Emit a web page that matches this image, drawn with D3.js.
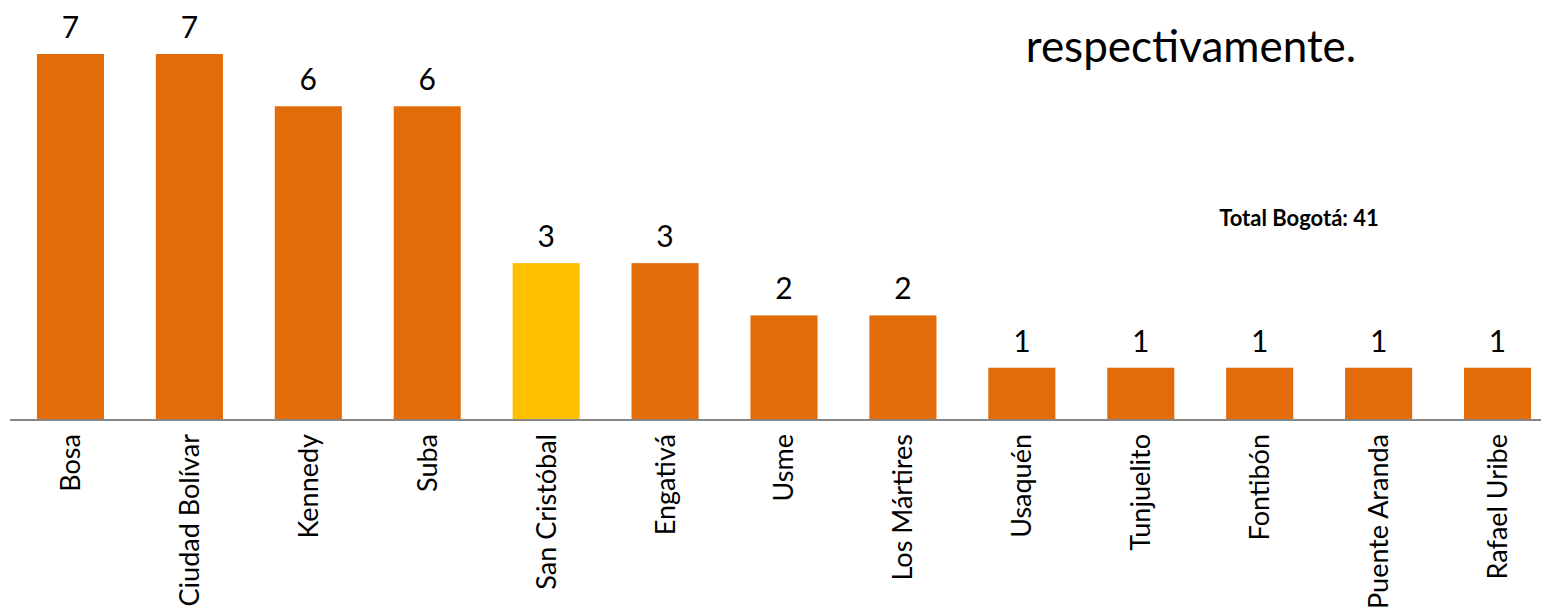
<!DOCTYPE html>
<html>
<head>
<meta charset="utf-8">
<script src="https://cdn.jsdelivr.net/npm/d3@7"></script>
<style>
  body { margin: 0; background: #fff; }
  text { font-family: Lato, "Open Sans", sans-serif; }
</style>
</head>
<body>
<svg id="chart"></svg>
<script>
// datos del gráfico
const localidades = ["Bosa", "Ciudad Bolívar", "Kennedy", "Suba", "San Cristóbal", "Engativá",
  "Usme", "Los Mártires", "Usaquén", "Tunjuelito", "Fontibón", "Puente Aranda", "Rafael Uribe"];
const casos = [7, 7, 6, 6, 3, 3, 2, 2, 1, 1, 1, 1, 1];
const destacada = "San Cristóbal";
const totalTexto = "Total Bogotá: 41";
const tituloTexto = "respectivamente.";

const width = 1541, height = 614;
const baseY = 420;

const svg = d3.select("#chart")
  .attr("width", width)
  .attr("height", height);

// Escalas
const x = d3.scaleBand()
  .domain(localidades)
  .range([11, 1557])
  .paddingInner(0.436)
  .paddingOuter(0.218);

const y = d3.scaleLinear()
  .domain([0, 7])
  .range([baseY, 54]);

// Barras
svg.selectAll("rect.bar")
  .data(localidades)
  .join("rect")
  .attr("class", "bar")
  .attr("x", d => x(d))
  .attr("width", x.bandwidth())
  .attr("y", (d, i) => y(casos[i]))
  .attr("height", (d, i) => y(0) - y(casos[i]))
  .attr("fill", d => d === destacada ? "#FFC000" : "#E36C0A");

// Etiquetas de valor
svg.selectAll("text.val")
  .data(localidades)
  .join("text")
  .attr("class", "val")
  .attr("x", d => x(d) + x.bandwidth() / 2)
  .attr("y", (d, i) => y(casos[i]) - 16)
  .attr("text-anchor", "middle")
  .attr("font-size", 30)
  .attr("fill", "#000")
  .text((d, i) => casos[i]);

// Eje X
const axis = svg.append("g")
  .attr("transform", `translate(0,${baseY})`)
  .call(d3.axisBottom(x).tickSize(0).tickPadding(0));

axis.select(".domain")
  .attr("d", `M10,0H${width}`)
  .attr("stroke", "#878787")
  .attr("stroke-width", 2);

axis.selectAll(".tick text")
  .attr("transform", "rotate(-90)")
  .attr("x", -14)
  .attr("y", 0)
  .attr("dy", "0.35em")
  .attr("text-anchor", "end")
  .attr("font-size", 27)
  .attr("font-family", "Lato, 'Open Sans', sans-serif")
  .attr("fill", "#000");

// Textos
svg.append("text")
  .attr("x", 1191)
  .attr("y", 62)
  .attr("text-anchor", "middle")
  .attr("font-size", 44)
  .attr("fill", "#000")
  .text(tituloTexto);

svg.append("text")
  .attr("x", 1299)
  .attr("y", 226)
  .attr("text-anchor", "middle")
  .attr("font-size", 22)
  .attr("font-weight", "bold")
  .attr("fill", "#000")
  .text(totalTexto);
</script>
</body>
</html>
